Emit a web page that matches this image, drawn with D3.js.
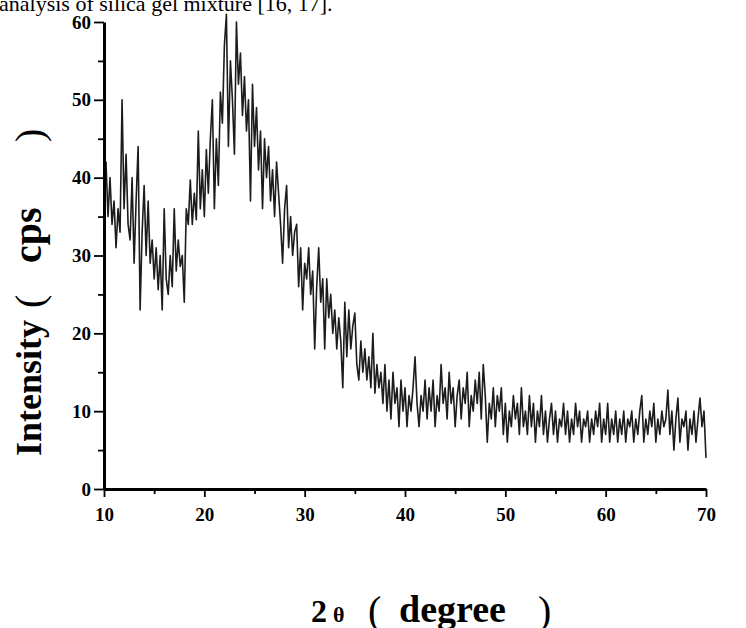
<!DOCTYPE html>
<html>
<head>
<meta charset="utf-8">
<script src="https://cdn.jsdelivr.net/npm/d3@7/dist/d3.min.js"></script>
<style>
  body { margin: 0; background: #fff; }
  svg { display: block; }
</style>
</head>
<body>
<div id="chart"></div>
<script>
// Data: XRD scan, 2theta from 10 to 70 in 0.2 degree steps
const angleStart = 10;
const angleStep = 0.2;
const intensity = [
  38, 42, 35, 40, 34, 37, 31, 36, 33, 50,
  36, 43, 34, 32, 40, 29, 37, 44, 23, 33,
  39, 30, 37, 29, 32, 27, 31, 25.6, 30, 23,
  36, 27, 25, 30, 26, 36, 28, 32, 28.6, 30,
  24, 36, 34, 39.7, 34, 38, 34.6, 46, 36, 41,
  35, 43.6, 38, 45, 50, 36, 45, 39, 51, 47,
  57, 61, 44, 55, 50, 43, 60, 52, 56, 48,
  53, 46, 50, 37, 52, 44, 49, 41, 46, 36,
  45, 40, 44, 37, 41, 35, 42, 38, 34, 29,
  36, 39, 31, 35, 30, 33, 34, 26, 31, 23,
  29, 27, 31, 25, 28, 18, 26, 31, 24, 27,
  18, 27, 22, 25, 20, 23, 18, 22, 19, 13,
  24, 17, 23, 18, 21, 22.6, 16, 14, 19, 15,
  18, 14, 17, 13, 20, 12.3, 16, 13, 15, 11,
  16, 10, 14, 9, 15, 11, 13, 8, 14, 10,
  13, 8, 12, 10, 13, 17, 11, 8, 12, 10,
  14, 9, 13, 10, 14, 8, 12, 10, 16, 11,
  13, 9, 15, 11, 13, 8, 12, 14, 9, 13,
  11, 15, 8, 12, 10, 14, 11, 15, 9, 16,
  12, 6, 11, 9, 13, 8, 12, 10, 13, 7,
  11, 6, 10, 8, 12, 9, 11, 7, 13, 8,
  10, 7, 12, 8, 11, 6, 10, 8, 12, 7,
  10, 6, 9, 11, 7, 10, 6, 9, 8, 11,
  7, 10, 6, 9, 7, 11, 8, 10, 6, 9,
  8, 10, 6, 9, 7, 10, 8, 11, 6, 9,
  7, 11, 6, 9, 7, 10, 6, 9, 7, 10,
  6, 9, 8, 10, 6, 9, 7, 10, 12, 6,
  9, 7, 10, 8, 11, 6, 9, 7, 10, 8,
  9, 12.7, 7, 10, 5, 9, 11.7, 6, 9, 8,
  10, 5, 9, 7, 10, 6, 9, 11.7, 8, 10,
  4
];

const xTicks = [10, 20, 30, 40, 50, 60, 70];
const xMinorTicks = [15, 25, 35, 45, 55, 65];
const yTicks = [0, 10, 20, 30, 40, 50, 60];
const yMinorTicks = [5, 15, 25, 35, 45, 55];

function draw() {
  const width = 746;
  const height = 628;
  const serif = "'Liberation Serif', 'Times New Roman', serif";

  const svg = d3
    .select("#chart")
    .append("svg")
    .attr("width", width)
    .attr("height", height);

  // clipped caption line left over from the page above the figure
  svg
    .append("text")
    .attr("x", -1)
    .attr("y", 11)
    .style("font-family", serif)
    .style("font-size", "22px")
    .text("analysis of silica gel mixture [16, 17].");

  const xScale = d3.scaleLinear().domain([10, 70]).range([104, 706]);
  const yScale = d3.scaleLinear().domain([0, 60]).range([489, 22]);

  const points = intensity.map((v, i) => ({ angle: angleStart + i * angleStep, value: v }));

  // Trace
  const lineGenerator = d3
    .line()
    .x((d) => xScale(d.angle))
    .y((d) => yScale(d.value));

  svg
    .append("path")
    .datum(points)
    .attr("d", lineGenerator)
    .attr("fill", "none")
    .attr("stroke", "#1c1c1c")
    .attr("stroke-width", 1.6)
    .attr("stroke-linejoin", "round");

  // Axes
  svg
    .append("g")
    .attr("transform", `translate(0, ${yScale(0)})`)
    .call(d3.axisBottom(xScale).tickValues(xTicks).tickSize(8).tickPadding(11).tickSizeOuter(0));

  svg
    .append("g")
    .attr("transform", `translate(0, ${yScale(0)})`)
    .call(d3.axisBottom(xScale).tickValues(xMinorTicks).tickSize(5).tickFormat(""))
    .call((g) => g.select(".domain").remove());

  svg
    .append("g")
    .attr("transform", `translate(${xScale(10)}, 0)`)
    .call(d3.axisLeft(yScale).tickValues(yTicks).tickSize(10).tickPadding(3).tickSizeOuter(0));

  svg
    .append("g")
    .attr("transform", `translate(${xScale(10)}, 0)`)
    .call(d3.axisLeft(yScale).tickValues(yMinorTicks).tickSize(6).tickFormat(""))
    .call((g) => g.select(".domain").remove());

  svg.selectAll(".domain").attr("stroke", "#000").attr("stroke-width", 3);
  svg.selectAll(".tick line").attr("stroke", "#000").attr("stroke-width", 1.8);
  svg
    .selectAll(".tick text")
    .attr("fill", "#000")
    .style("font-family", serif)
    .style("font-weight", "bold")
    .style("font-size", "19px");

  // Axis titles
  const xTitle = svg
    .append("text")
    .attr("y", 622)
    .style("font-family", serif)
    .attr("fill", "#000");
  xTitle.append("tspan").attr("x", 311).style("font-weight", "bold").style("font-size", "32px").text("2");
  xTitle.append("tspan").attr("x", 333).style("font-size", "22px").style("font-weight", "bold").text("θ");
  xTitle.append("tspan").attr("x", 368).attr("dy", 2).style("font-size", "40px").text("(");
  xTitle.append("tspan").attr("x", 399).attr("dy", -2).style("font-weight", "bold").style("font-size", "38px").text("degree");
  xTitle.append("tspan").attr("x", 538).attr("dy", 2).style("font-size", "40px").text(")");

  const yTitle = svg
    .append("text")
    .attr("transform", "translate(41, 0) rotate(-90)")
    .style("font-family", serif)
    .attr("fill", "#000");
  yTitle.append("tspan").attr("x", -456).style("font-weight", "bold").style("font-size", "36px").text("Intensity");
  yTitle.append("tspan").attr("x", -308).attr("dy", 2).style("font-size", "40px").text("(");
  yTitle.append("tspan").attr("x", -263).attr("dy", -2).style("font-weight", "bold").style("font-size", "40px").text("cps");
  yTitle.append("tspan").attr("x", -142).attr("dy", 2).style("font-size", "40px").text(")");
}

draw();
</script>
</body>
</html>
